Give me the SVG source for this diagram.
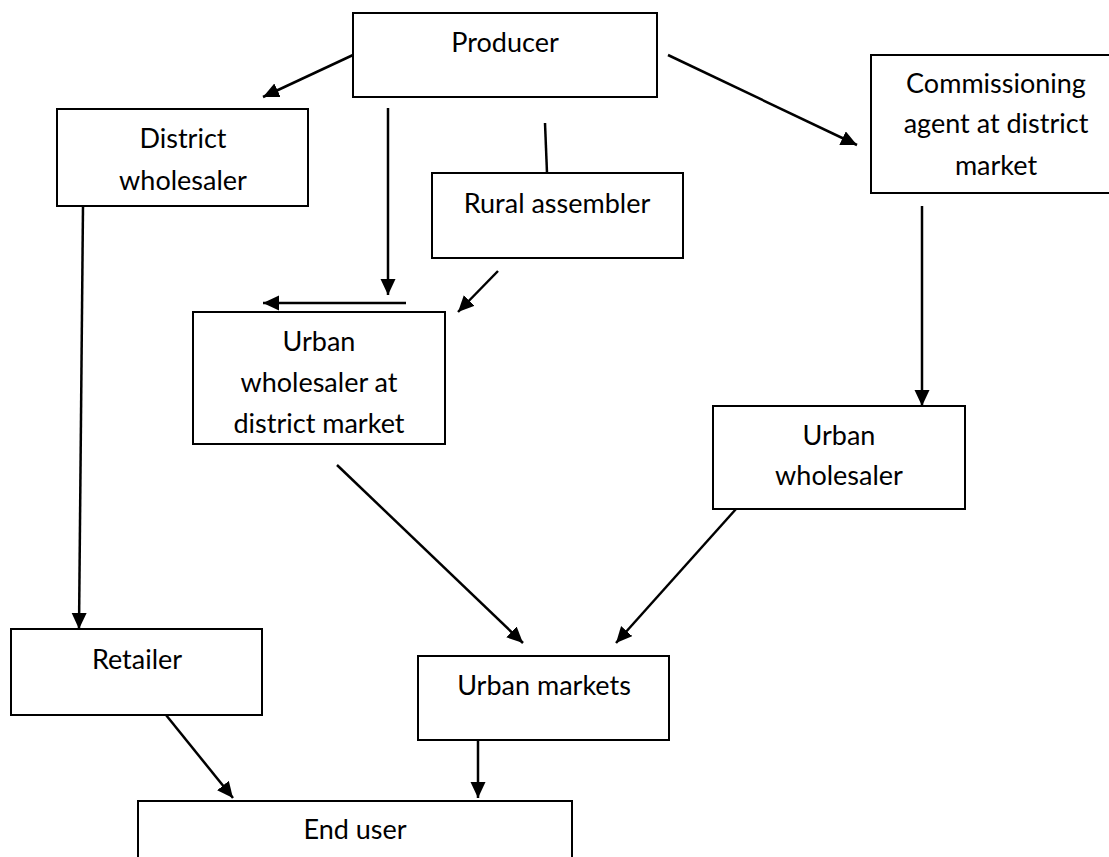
<svg xmlns="http://www.w3.org/2000/svg" width="1109" height="857" viewBox="0 0 1109 857">
<style>
.box{fill:#fff;stroke:#000;stroke-width:2}
.lbl{font-family:Lato,"Open Sans","Liberation Sans",sans-serif;font-size:27px;fill:#000;text-anchor:middle}
.cn{stroke:#000;stroke-width:2.5;fill:none}
.ar{marker-end:url(#ah)}
</style>
<defs>
<marker id="ah" markerUnits="userSpaceOnUse" markerWidth="18" markerHeight="16" refX="16" refY="7.5" orient="auto">
<path d="M0,0 L16,7.5 L0,15 z" fill="#000"/>
</marker>
</defs>
<rect width="1109" height="857" fill="#fff"/>
<g id="producer"><rect class="box" x="353" y="13" width="304" height="84"/><text class="lbl" x="505" y="52">Producer</text></g>
<g id="district-wholesaler"><rect class="box" x="57" y="109" width="251" height="97"/><text class="lbl" x="183" y="148">District</text><text class="lbl" x="183" y="190">wholesaler</text></g>
<g id="rural-assembler"><rect class="box" x="432" y="173" width="251" height="85"/><text class="lbl" x="557" y="213">Rural assembler</text></g>
<g id="commissioning-agent"><rect class="box" x="871" y="55" width="250" height="138"/><text class="lbl" x="996" y="93">Commissioning</text><text class="lbl" x="996" y="133">agent at district</text><text class="lbl" x="996" y="175">market</text></g>
<g id="urban-wholesaler-district"><rect class="box" x="193" y="312" width="252" height="132"/><text class="lbl" x="319" y="351">Urban</text><text class="lbl" x="319" y="392">wholesaler at</text><text class="lbl" x="319" y="433">district market</text></g>
<g id="urban-wholesaler"><rect class="box" x="713" y="406" width="252" height="103"/><text class="lbl" x="839" y="445">Urban</text><text class="lbl" x="839" y="485">wholesaler</text></g>
<g id="retailer"><rect class="box" x="11" y="629" width="251" height="86"/><text class="lbl" x="137" y="669">Retailer</text></g>
<g id="urban-markets"><rect class="box" x="418" y="656" width="251" height="84"/><text class="lbl" x="544" y="695">Urban markets</text></g>
<g id="end-user"><rect class="box" x="138" y="801" width="434" height="80"/><text class="lbl" x="355" y="839">End user</text></g>
<g id="connectors">
<line class="cn ar" x1="353" y1="55" x2="263" y2="97"/>
<line class="cn ar" x1="388" y1="108" x2="388" y2="295"/>
<line class="cn ar" x1="406" y1="303" x2="263" y2="303"/>
<line class="cn" x1="545" y1="123" x2="547" y2="173"/>
<line class="cn ar" x1="498" y1="271" x2="458" y2="312"/>
<line class="cn ar" x1="668" y1="55" x2="857" y2="145"/>
<line class="cn ar" x1="922" y1="206" x2="922" y2="406"/>
<line class="cn ar" x1="83" y1="206" x2="79" y2="629"/>
<line class="cn ar" x1="337" y1="465" x2="523" y2="643"/>
<line class="cn ar" x1="736" y1="509" x2="616" y2="643"/>
<line class="cn ar" x1="166" y1="715" x2="233" y2="798"/>
<line class="cn ar" x1="478" y1="740" x2="478" y2="798"/>
</g>
</svg>
